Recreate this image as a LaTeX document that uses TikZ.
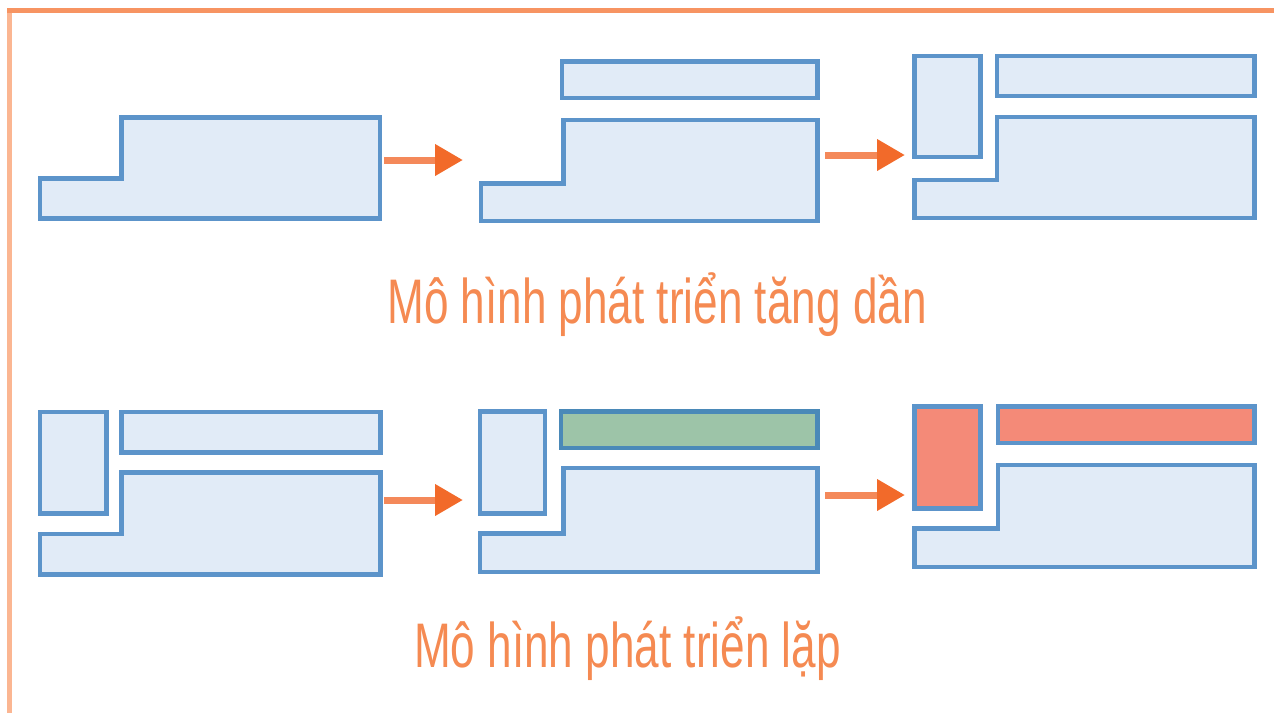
\documentclass[tikz,border=0pt]{standalone}
\usepackage{fontspec}
\newfontfamily\captionfont[FakeStretch=0.70]{Liberation Sans}
\usetikzlibrary{arrows.meta}

\definecolor{blockfill}{HTML}{E1EBF7}
\definecolor{blockline}{HTML}{5C94CA}
\definecolor{greenfill}{HTML}{9DC4A8}
\definecolor{greenline}{HTML}{4A89B8}
\definecolor{redfill}{HTML}{F48A78}
\definecolor{frametop}{HTML}{F79462}
\definecolor{frameleft}{HTML}{FBB692}
\definecolor{shaftcol}{HTML}{F4895A}
\definecolor{headcol}{HTML}{F26A2A}
\definecolor{captioncol}{HTML}{F58A52}

\begin{document}
\begin{tikzpicture}[x=1pt, y=-1pt,
  block/.style={draw=blockline, fill=blockfill, line width=4.5pt, line join=miter},
  flow/.style={draw=shaftcol, line width=7pt, -{Triangle[length=28pt, width=30pt, color=headcol]}},
  caption/.style={text=captioncol, font=\captionfont\fontsize{63}{70}\selectfont, inner sep=0pt, anchor=base}]
\useasboundingbox (0,0) rectangle (1274,713);

% frame lines
\draw[frametop, line width=5pt] (7,10) -- (1274,10);
\draw[frameleft, line width=5pt] (9.5,12.5) -- (9.5,713);

% step block: left, step, right, top, low top, bottom
\def\stepblock#1#2#3#4#5#6{%
  \draw[block] (#1,#6) -- (#1,#5) -- (#2,#5) -- (#2,#4) -- (#3,#4) -- (#3,#6) -- cycle;}

%% incremental model
\stepblock{40}{121.5}{380}{117.5}{178.5}{218.5}

\draw[block] (562,61.5) rectangle (817.5,98);
\stepblock{481}{563.5}{817.5}{120}{183.5}{221}

\draw[block] (914.5,56) rectangle (980.5,157);
\draw[block] (997,56) rectangle (1254.5,96);
\stepblock{914.5}{997}{1254.5}{117}{180}{218}

\coordinate (inc1s) at (384,160);
\coordinate (inc1e) at (463,160);
\coordinate (inc2s) at (825,155);
\coordinate (inc2e) at (905,155);
\draw[flow] (inc1s) -- (inc1e);
\draw[flow] (inc2s) -- (inc2e);

\node[caption] (inccap) at (657,323) {Mô hình phát triển tăng dần};

%% iterative model
\draw[block] (40,412) rectangle (106.5,513.5);
\draw[block] (121.5,412) rectangle (380.5,452.5);
\stepblock{40}{121.5}{380.5}{472.5}{534}{574.5}

\draw[block] (480,411.5) rectangle (545,513.5);
\draw[block, fill=greenfill, draw=greenline] (561,411.5) rectangle (817.5,448);
\stepblock{480}{563.5}{817.5}{468}{533.5}{572}

\draw[block, fill=redfill] (914.5,406.5) rectangle (980.5,508.5);
\draw[block, fill=redfill] (998,406.5) rectangle (1254.5,443);
\stepblock{914.5}{998}{1254.5}{465}{528.5}{567}

\coordinate (itr1s) at (384,500);
\coordinate (itr1e) at (463,500);
\coordinate (itr2s) at (825,495);
\coordinate (itr2e) at (905,495);
\draw[flow] (itr1s) -- (itr1e);
\draw[flow] (itr2s) -- (itr2e);

\node[caption] (itrcap) at (627.5,667) {Mô hình phát triển lặp};
\end{tikzpicture}
\end{document}
